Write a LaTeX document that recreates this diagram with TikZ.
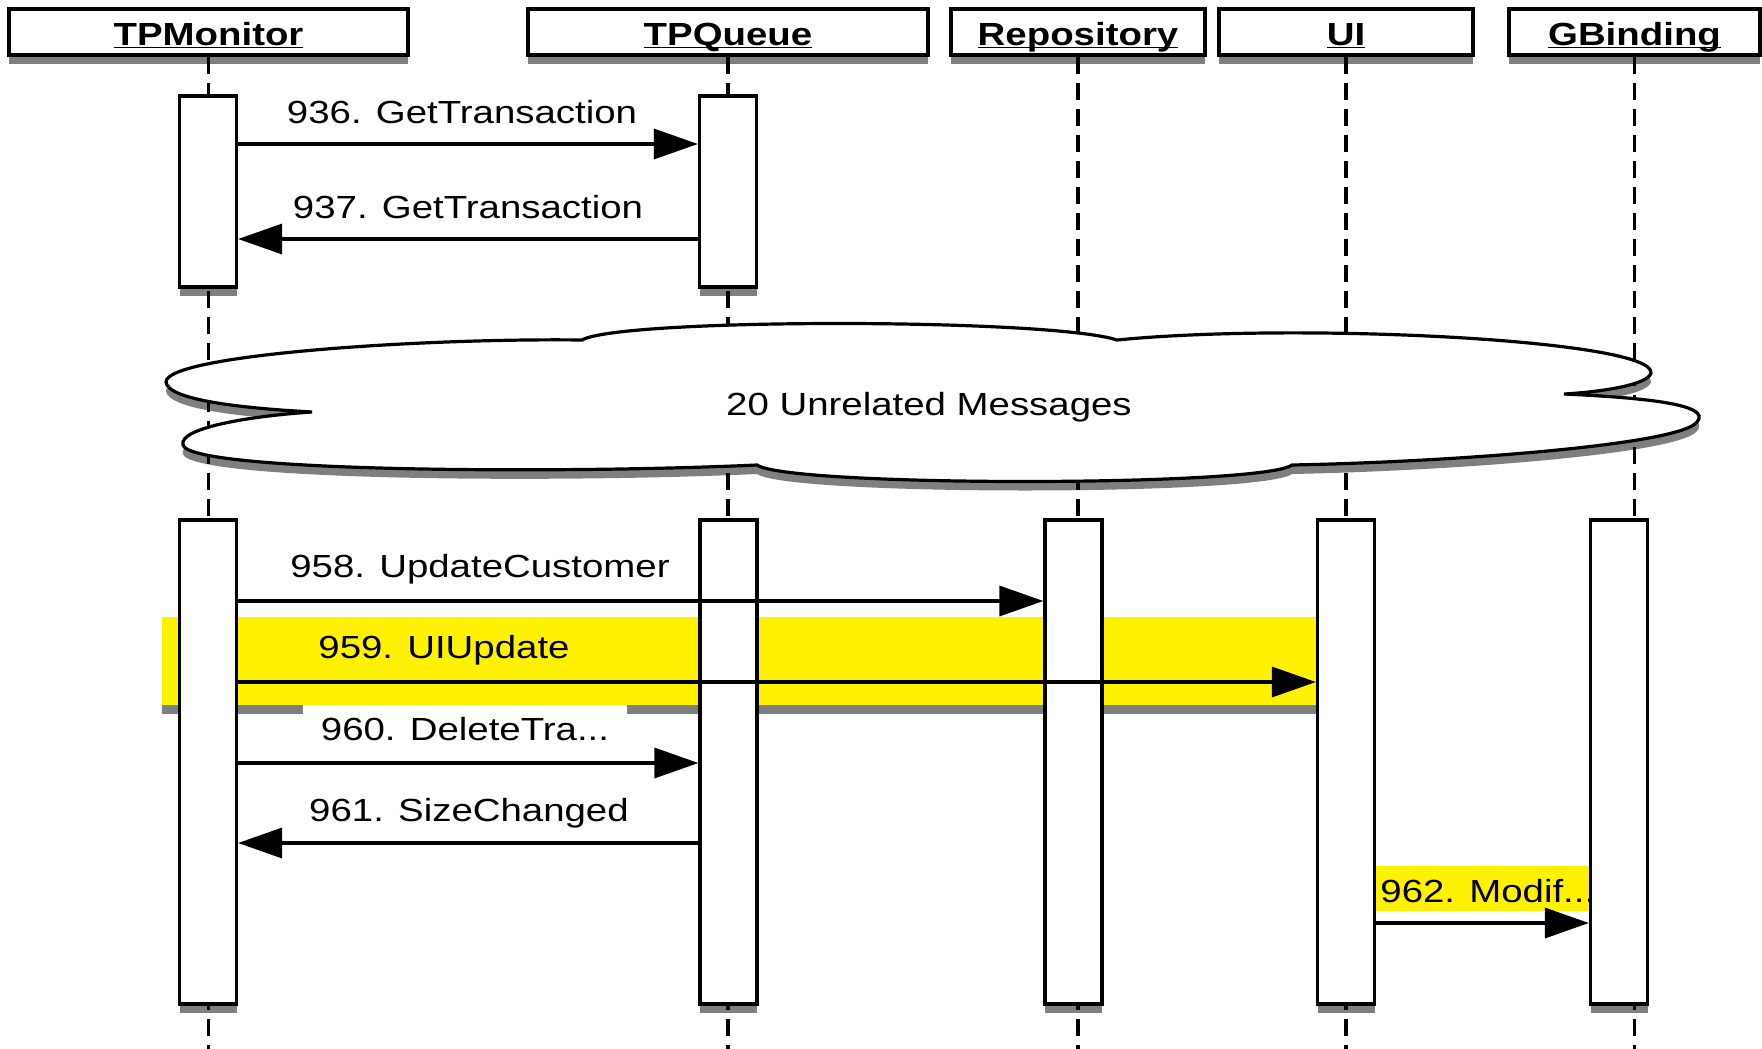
\documentclass[tikz,border=0pt]{standalone}
\usepackage{fontspec}
\setmainfont{Liberation Sans}[FakeStretch=1.2]
\usetikzlibrary{arrows.meta,shadows}
\newcommand\headname[1]{\underline{\smash{#1}}}

\begin{document}
\begin{tikzpicture}[x=0.5pt, y=-0.5pt,
	every node/.style={font=\fontsize{16}{19}\selectfont},
	boxshadow/.style={drop shadow={shadow xshift=0pt, shadow yshift=-4.5pt, fill=black, opacity=.5}},
	head/.style={draw, fill=white, line width=1.6pt, inner sep=0pt, minimum height=23pt, text height=15pt, text depth=2pt, boxshadow, font=\fontsize{16}{19}\selectfont\bfseries},
	act/.style={draw, fill=white, line width=1.6pt, inner sep=0pt, minimum width=28.5pt, boxshadow},
	life/.style={line width=1.6pt, dash pattern=on 8.5pt off 4.5pt},
	msg/.style={line width=1.7pt, -{Triangle[length=22pt,width=15pt]}},
	lbl/.style={anchor=base, inner sep=0pt}]
		\useasboundingbox (0,0) rectangle (1762,1049);
		\node[head, minimum width=199.5pt] (mon) at (208.5,32) {\headname{TPMonitor}};
		\node[head, minimum width=200pt] (que) at (728,32) {\headname{TPQueue}};
		\node[head, minimum width=127pt] (rep) at (1078,32) {\headname{Repository}};
		\node[head, minimum width=127pt] (ui) at (1346,32) {\headname{UI}};
		\node[head, minimum width=125.5pt] (gb) at (1634.5,32) {\headname{GBinding}};
		\coordinate (bottom) at (0,1049);
		\foreach \n in {mon,que,rep,ui,gb}
			\draw[life] (\n.south) to (\n.south |- bottom);

		\draw[line width=1.6pt, fill=white, boxshadow] (166,382) .. controls (166,355) and (420,338) .. (582,340)
			.. controls (620,318) and (1050,318) .. (1117,340)
			.. controls (1300,322) and (1655,340) .. (1651,373)
			.. controls (1648,385) and (1600,392) .. (1564,394)
			.. controls (1650,398) and (1712,405) .. (1697,422)
			.. controls (1680,445) and (1450,462) .. (1292,465)
			.. controls (1262,487) and (788,487) .. (757,465)
			.. controls (560,474) and (190,472) .. (183,445)
			.. controls (178,428) and (250,416) .. (312,412)
			.. controls (240,408) and (168,400) .. (166,382) -- cycle;
		\node[lbl] (unrel) at (929,415) {20 Unrelated Messages};

		\path[fill=yellow, boxshadow] (162,617) rectangle (1318,705);
		\node[lbl, anchor=base west, fill=yellow, inner xsep=3pt, text height=18pt, text depth=4.5pt] (l962) at (1374,902) {962. Modif...};

		\node[act, minimum height=95.5pt] (monA) at (208,191.5) {};
		\node[act, minimum height=95.5pt] (queA) at (728,191.5) {};
		\node[act, minimum height=242pt] (monB) at (208,762) {};
		\node[act, minimum height=242pt] (queB) at (728.5,762) {};
		\node[act, minimum height=242pt] (repB) at (1073.5,762) {};
		\node[act, minimum height=242pt] (uiB) at (1346,762) {};
		\node[act, minimum height=242pt] (gbB) at (1619,762) {};

		\coordinate (r936) at (0,144);
		\coordinate (r937) at (0,239);
		\coordinate (r958) at (0,601);
		\coordinate (r959) at (0,682);
		\coordinate (r960) at (0,763);
		\coordinate (r961) at (0,843);
		\coordinate (r962) at (0,923);
		\draw[msg] (monA.east |- r936) to (queA.west |- r936);
		\draw[msg] (queA.west |- r937) to (monA.east |- r937);
		\draw[msg] (monB.east |- r958) to (repB.west |- r958);
		\draw[msg] (monB.east |- r959) to (uiB.west |- r959);
		\draw[msg] (monB.east |- r960) to (queB.west |- r960);
		\draw[msg] (queB.west |- r961) to (monB.east |- r961);
		\draw[msg] (uiB.east |- r962) to (gbB.west |- r962);

		\node[lbl] (l936) at (462,123) {936. GetTransaction};
		\node[lbl] (l937) at (468,218) {937. GetTransaction};
		\node[lbl] (l958) at (480,577) {958. UpdateCustomer};
		\node[lbl] (l959) at (444,658) {959. UIUpdate};
		\node[lbl, fill=white, inner xsep=9pt, text height=17.5pt] (l960) at (465,740) {960. DeleteTra...};
		\node[lbl] (l961) at (469,821) {961. SizeChanged};

	\end{tikzpicture}
\end{document}
